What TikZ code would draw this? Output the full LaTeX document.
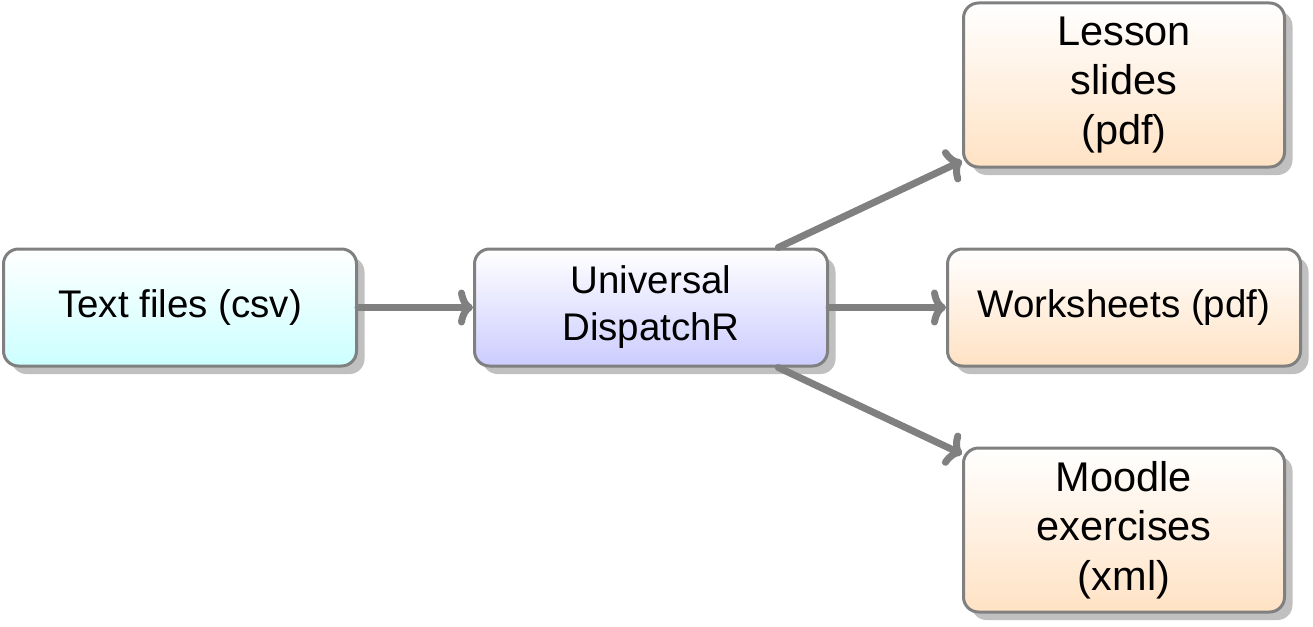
\documentclass[tikz,border=0pt]{standalone}
\usepackage{fontspec}
\setmainfont{Liberation Sans}
\usetikzlibrary{arrows.meta,shadows}
\definecolor{edgegray}{RGB}{128,128,128}
\definecolor{shadowgray}{RGB}{192,192,192}
\definecolor{cyanbot}{RGB}{204,255,255}
\definecolor{lavbot}{RGB}{204,204,255}
\definecolor{orangebot}{RGB}{255,226,196}
\tikzset{
  box/.style={rectangle, rounded corners=15pt, draw=edgegray, line width=3pt,
    align=center, inner sep=0pt, font=\fontsize{38.5}{47}\selectfont,
    top color=white,
    drop shadow={shadow xshift=8pt, shadow yshift=-8pt, fill=shadowgray, opacity=1}},
  widebox/.style={box, minimum width=353pt, minimum height=117pt},
  tallbox/.style={box, minimum width=321pt, minimum height=164pt,
    font=\fontsize{41.5}{49.5}\selectfont},
  conn/.style={draw=edgegray, line width=7pt, line cap=round,
    -{To[length=15pt,width=36pt,round]}}
}
\begin{document}
\begin{tikzpicture}[x=1pt,y=1pt]
\useasboundingbox (0,0) rectangle (1313,-626);
\node[widebox, bottom color=cyanbot] (txt) at (180,-307.5) {Text files (csv)};
\node[widebox, bottom color=lavbot] (disp) at (651,-307.5) {Universal\\DispatchR};
\node[tallbox, bottom color=orangebot] (lesson) at (1124,-85) {Lesson\\slides\\(pdf)};
\node[widebox, bottom color=orangebot] (work) at (1124,-307.5) {Worksheets (pdf)};
\node[tallbox, bottom color=orangebot] (moodle) at (1124,-530) {Moodle\\exercises\\(xml)};
\draw[conn] (txt) -- (disp);
\draw[conn] (disp) -- (lesson);
\draw[conn] (disp) -- (work);
\draw[conn] (disp) -- (moodle);
\end{tikzpicture}
\end{document}
